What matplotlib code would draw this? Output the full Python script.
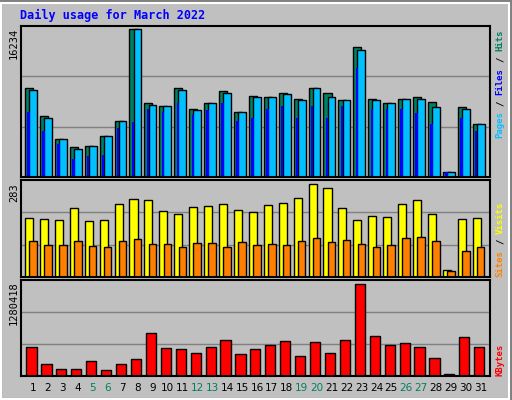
import matplotlib
matplotlib.use("Agg")
import matplotlib.pyplot as plt
import numpy as np
from matplotlib.patches import Rectangle

days = list(range(1, 32))
hits = [9740, 6660, 4220, 3250, 3410, 4550, 6170, 16234, 8120, 7790, 9740, 7470, 8120, 9420, 7140, 8930,
        8770, 9250, 8600, 9740, 9250, 8440, 14290, 8600, 8120, 8600, 8770, 8280, 580, 7630, 5840]
files = [9580, 6490, 4220, 3080, 3410, 4550, 6170, 16234, 7950, 7790, 9580, 7300, 8120, 9250, 7140, 8770,
         8770, 9090, 8440, 9740, 8770, 8440, 13960, 8440, 8120, 8600, 8600, 7630, 580, 7470, 5760]
pages = [7140, 5030, 3570, 1950, 2270, 2440, 5360, 6010, 7470, 7140, 8120, 6820, 7300, 8120, 6170, 6490,
         7470, 7790, 6490, 7790, 6490, 7790, 12010, 7470, 7470, 7470, 6980, 5840, 580, 6490, 5030]
sites = [181, 175, 173, 209, 170, 173, 221, 238, 235, 201, 192, 212, 215, 221, 204, 198,
         218, 224, 241, 283, 272, 209, 173, 187, 184, 221, 235, 192, 22, 175, 181]
visits = [110, 96, 96, 110, 93, 91, 110, 116, 99, 99, 91, 102, 102, 91, 105, 96,
          99, 96, 110, 119, 108, 113, 99, 91, 96, 119, 122, 110, 18, 79, 91]
kbytes = [396900, 172900, 102400, 102400, 204900, 76800, 172900, 230500, 601800, 384100, 371300, 326500, 396900,
          499400, 300900, 371300, 435300, 480200, 281700, 467400, 326500, 499400, 1280418, 550600, 435300,
          454600, 409700, 256100, 33300, 537800, 396900]
weekend = [5, 6, 12, 13, 19, 20, 26, 27]

BG = "#c0c0c0"
fig = plt.figure(figsize=(5.12, 4.0), dpi=100, facecolor=BG)
W, H = 512, 400
fig.patches.append(Rectangle((0, 0), 1, 1, transform=fig.transFigure, fill=False, ec="#808080", lw=3))
fig.patches.append(Rectangle((1/W, 1/H), 1-4/W, 1-4/H, transform=fig.transFigure, fill=False, ec="white", lw=1.5))

def px_axes(top, bottom):
    return fig.add_axes([20.5/W, 1-bottom/H, (490-20.5)/W, (bottom-top)/H])

x = np.array(days, dtype=float)
xl = (0.16, 31.62)
mono = "DejaVu Sans Mono"

def style(ax, ymax):
    ax.set_facecolor(BG)
    ax.set_xlim(*xl)
    ax.set_ylim(0, ymax)
    ax.set_xticks([]); ax.set_yticks([])
    for s in ax.spines.values():
        s.set_color("black"); s.set_linewidth(1.5)
    for f in (1/3, 2/3):
        ax.axhline(f*ymax, color="#808080", lw=1, zorder=0)

kw = dict(edgecolor="black", linewidth=1.0)
ax1 = px_axes(26, 177)
style(ax1, max(hits)*151/148)
ax1.bar(x-0.27, hits, width=0.54, color="#008060", align="center", **kw)
ax1.bar(x-0.0, files, width=0.52, color="#00c0ff", **kw)
ax1.bar(x-0.3, pages, width=0.16, color="#0000ff", linewidth=0)

ax2 = px_axes(180, 277)
style(ax2, max(sites)*97/93)
ax2.bar(x-0.27, sites, width=0.54, color="#ffff00", **kw)
ax2.bar(x+0.0, visits, width=0.5, color="#ff8000", **kw)

ax3 = px_axes(280, 376)
style(ax3, max(kbytes)*96/92)
ax3.bar(x-0.1, kbytes, width=0.68, color="#ff0000", **kw)

for d in days:
    fig.text((33 + (d-1)*14.93)/W, 1-388/H, str(d), ha="center", va="center", fontsize=7.5,
             color="#008060" if d in weekend else "black")

fig.text(20/W, 1-15/H, "Daily usage for March 2022", fontsize=8.5, family=mono, weight="bold",
         color="#0000ff", va="center", ha="left")

for lab, top in (("16234", 28), ("283", 183), ("1280418", 281)):
    fig.text(14/W, 1-top/H, lab, rotation=90, ha="center", va="top", fontsize=7.5, family=mono)

def side(parts, bottom, fs=6.5):
    step = 0.6 * fs * 100 / 72
    pos = bottom
    for txt, col in parts:
        s = txt.strip()
        lead = len(txt) - len(txt.lstrip())
        fig.text(500/W, 1-(pos - lead*step)/H, s, rotation=90, ha="center", va="bottom", fontsize=fs,
                 family=mono, weight="bold", color=col)
        pos -= len(txt)*step

side([("Pages", "#00c0ff"), (" / ", "black"), ("Files", "#0000ff"), (" / ", "black"), ("Hits", "#008060")], 138)
side([("Sites", "#ff8000"), (" / ", "black"), ("Visits", "#ffff00")], 277)
side([("KBytes", "#ff0000")], 376)

fig.savefig("out.png", dpi=100, facecolor=BG)
